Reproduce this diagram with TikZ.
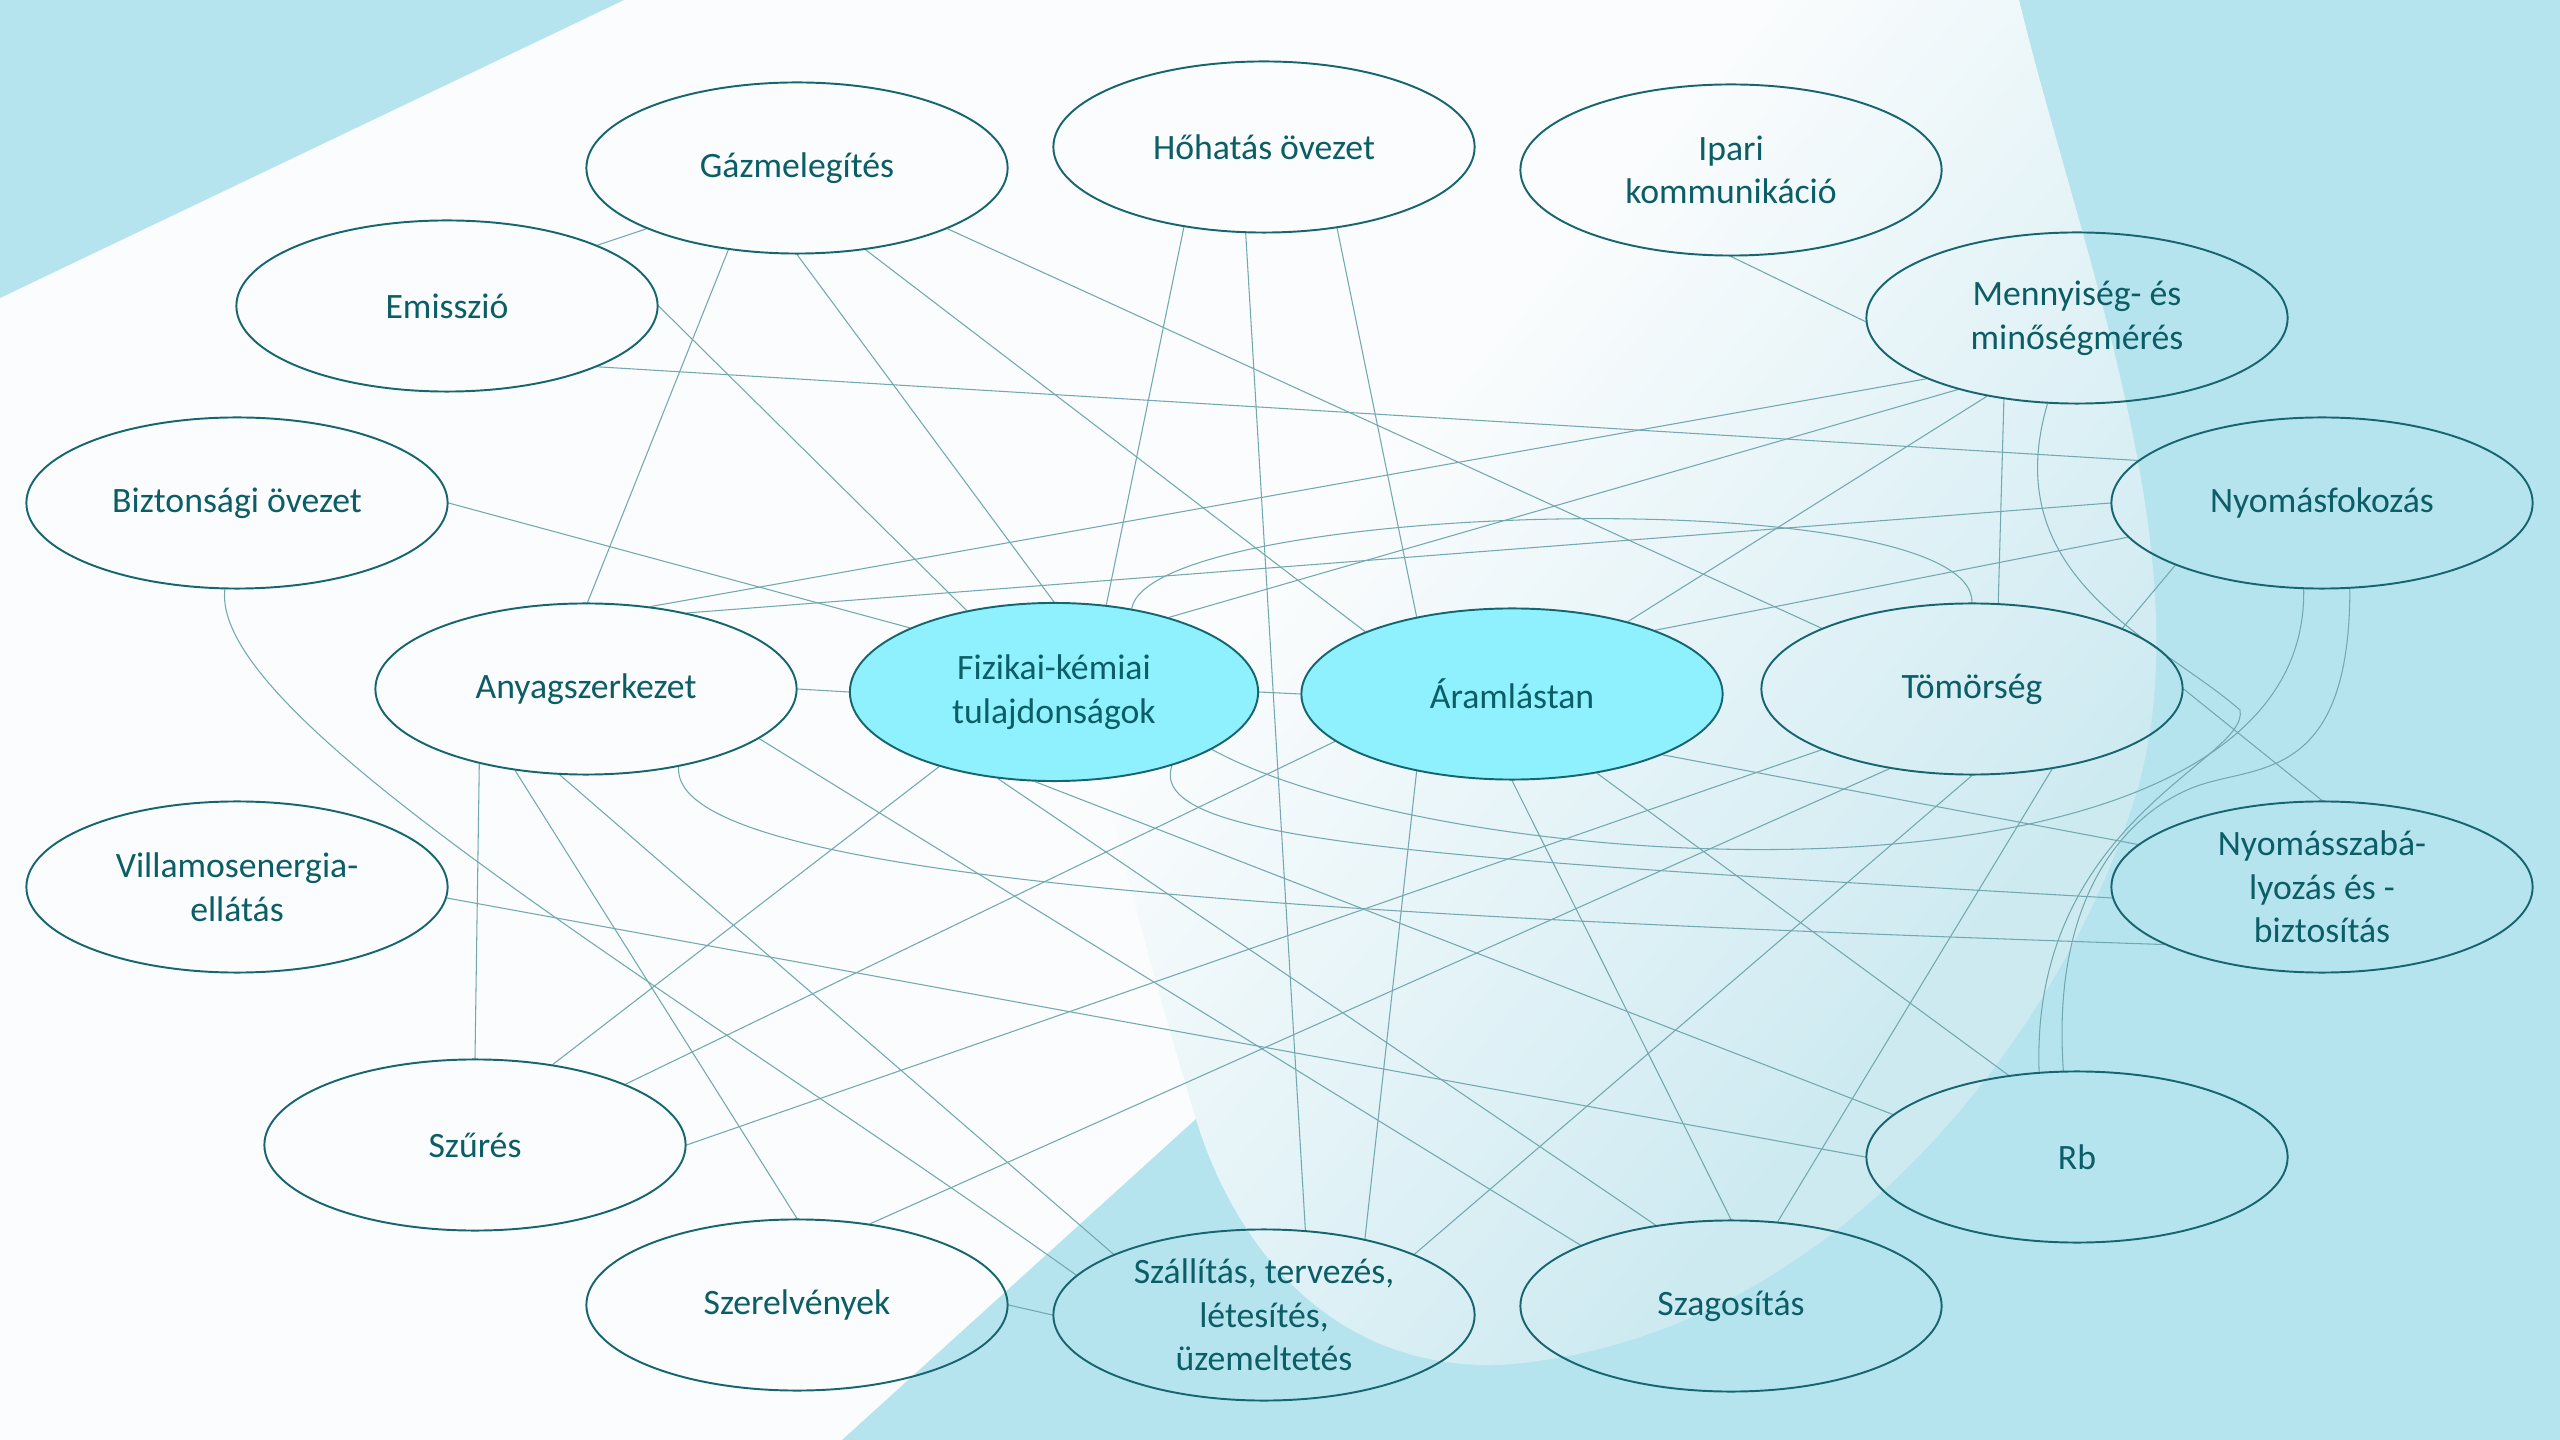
\documentclass[tikz,border=0pt]{standalone}
\usepackage{fontspec}
\setmainfont{Carlito}
\usetikzlibrary{shapes.geometric}
\definecolor{NodeTeal}{HTML}{17666F}
\definecolor{TextTeal}{HTML}{0B5D66}
\definecolor{LinkTeal}{HTML}{72A8AF}
\definecolor{CoreCyan}{HTML}{8EF1FD}
\definecolor{BackBlue}{HTML}{B6E4EE}
\definecolor{BaseWhite}{HTML}{FAFCFD}
\definecolor{LensBlue}{HTML}{CDEAF1}
\pgfdeclarehorizontalshading{lensfade}{100bp}{color(0bp)=(BaseWhite); color(25bp)=(BaseWhite); color(38bp)=(BaseWhite); color(68bp)=(LensBlue); color(100bp)=(LensBlue)}
\pgfdeclarelayer{backdrop}
\pgfdeclarelayer{links}
\pgfsetlayers{backdrop,links,main}
\tikzset{
  % Node styles
  conceptnode/.style={ellipse, draw=NodeTeal, line width=0.55pt, minimum width=4.21cm, minimum height=1.71cm, inner sep=0pt, align=center, text=TextTeal, font=\fontsize{10.15}{12.4}\selectfont},
  corenode/.style={conceptnode, fill=CoreCyan, minimum width=4.08cm, minimum height=1.78cm},
  % Line styles
  linkline/.style={draw=LinkTeal, line width=0.3pt}
}

\begin{document}
\begin{tikzpicture}[x=0.01cm, y=-0.01cm]
  \useasboundingbox (0,0) rectangle (2560,1440);

  % Backdrop
  \begin{pgfonlayer}{backdrop}
    \fill[BaseWhite] (0,0) rectangle (2560,1440);
    \fill[BackBlue] (0,0) -- (624,0) -- (0,298) -- cycle;
    \fill[BackBlue] (2019,0) -- (2560,0) -- (2560,1440) -- (842,1440) -- (1196,1119) -- (1600,700) -- cycle;
    \shade[shading=lensfade, shading angle=-40] (1000,0) -- (2019,0) .. controls (2080,250) and (2200,550) .. (2140,780) .. controls (2080,1000) and (1850,1340) .. (1500,1365) .. controls (1300,1370) and (1220,1200) .. (1196,1119) .. controls (1100,800) and (1000,400) .. (1000,0) -- cycle;
  \end{pgfonlayer}

  % Outer ring
  \node[conceptnode] (gaz) at (797,168) {Gázmelegítés};
  \node[conceptnode] (hohatas) at (1264,147) {Hőhatás övezet};
  \node[conceptnode] (ipari) at (1731,170) {Ipari\\kommunikáció};
  \node[conceptnode] (emisszio) at (447,306) {Emisszió};
  \node[conceptnode] (menny) at (2077,318) {Mennyiség- és\\minőségmérés};
  \node[conceptnode] (bizt) at (237,503) {Biztonsági övezet};
  \node[conceptnode] (nyomf) at (2322,503) {Nyomásfokozás};
  \node[conceptnode] (villamos) at (237,887) {Villamosenergia-\\ellátás};
  \node[conceptnode] (nyszab) at (2322,887) {Nyomásszabá-\\lyozás és -\\biztosítás};
  \node[conceptnode] (szures) at (475,1145) {Szűrés};
  \node[conceptnode] (rb) at (2077,1157) {Rb};
  \node[conceptnode] (szerelv) at (797,1305) {Szerelvények};
  \node[conceptnode] (szall) at (1264,1315) {Szállítás, tervezés,\\létesítés,\\üzemeltetés};
  \node[conceptnode] (szag) at (1731,1306) {Szagosítás};

  % Middle row
  \node[conceptnode] (anyag) at (586,689) {Anyagszerkezet};
  \node[corenode] (fizkem) at (1054,692) {Fizikai-kémiai\\tulajdonságok};
  \node[corenode, minimum width=4.21cm, minimum height=1.71cm] (aram) at (1512,694) {Áramlástan};
  \node[conceptnode] (tomor) at (1972,689) {Tömörség};

  % Links
  \begin{pgfonlayer}{links}
    \draw[linkline] (emisszio.22) -- (gaz.202);
    \draw[linkline] (gaz.230) -- (anyag.89);
    \draw[linkline] (gaz.270) -- (fizkem.90);
    \draw[linkline] (gaz.310) -- (aram.157);
    \draw[linkline] (gaz.338) -- (tomor.158);
    \draw[linkline] (emisszio.0) -- (fizkem.137);
    \draw[linkline] (emisszio.338) -- (nyomf.167);
    \draw[linkline] (bizt.0) -- (fizkem.156);
    \draw[linkline] (bizt.262) .. controls +(-15,130) and +(-408,-290) .. (szall.168);
    \draw[linkline] (hohatas.225) -- (fizkem.59);
    \draw[linkline] (hohatas.258) -- (szall.64);
    \draw[linkline] (hohatas.312) -- (aram.141);
    \draw[linkline] (ipari.270) -- (menny.181);
    \draw[linkline] (anyag.52) -- (menny.202);
    \draw[linkline] (anyag.37) -- (nyomf.180);
    \draw[linkline] (anyag.0) -- (fizkem.180);
    \draw[linkline] (fizkem.0) -- (aram.180);
    \draw[linkline] (fizkem.33) -- (menny.211);
    \draw[linkline] (aram.32) -- (menny.221);
    \draw[linkline] (menny.228) -- (tomor.73);
    \draw[linkline] (aram.24) -- (nyomf.190);
    \draw[linkline] (nyomf.203) -- (tomor.22);
    \draw[linkline] (tomor.0) -- (nyszab.90);
    \draw[linkline] (fizkem.47) .. controls +(19,-108) and +(2,-123) .. (tomor.90);
    \draw[linkline] (fizkem.340) .. controls +(241,132) and +(6,342) .. (nyomf.258);
    \draw[linkline] (nyomf.288) .. controls +(0,190) and +(60,-20) .. (2200,785) .. controls (2140,805) and (2050,880) .. (rb.99);
    \draw[linkline] (menny.251) .. controls +(-52,176) and +(-80,-70) .. (2240,710) .. controls (2250,760) and (2030,820) .. (rb.114);
    \draw[linkline] (anyag.215) -- (szures.90);
    \draw[linkline] (anyag.229) -- (szerelv.90);
    \draw[linkline] (anyag.253) -- (szall.158);
    \draw[linkline] (anyag.344) -- (szag.158);
    \draw[linkline] (anyag.320) .. controls +(-10,110) and +(-900,-30) .. (nyszab.200);
    \draw[linkline] (villamos.357) -- (rb.180);
    \draw[linkline] (szerelv.0) -- (szall.180);
    \draw[linkline] (szures.46) -- (fizkem.213);
    \draw[linkline] (szures.22) -- (aram.195);
    \draw[linkline] (szures.0) -- (tomor.202);
    \draw[linkline] (szerelv.48) -- (tomor.224);
    \draw[linkline] (aram.219) -- (szall.37);
    \draw[linkline] (szall.22) -- (tomor.270);
    \draw[linkline] (aram.270) -- (szag.90);
    \draw[linkline] (szag.61) -- (tomor.315);
    \draw[linkline] (fizkem.237) -- (szag.133);
    \draw[linkline] (fizkem.258) -- (rb.167);
    \draw[linkline] (fizkem.328) .. controls +(-25,75) and +(-700,-40) .. (nyszab.183);
    \draw[linkline] (aram.317) -- (rb.130);
    \draw[linkline] (aram.338) -- (nyszab.167);
  \end{pgfonlayer}
\end{tikzpicture}
\end{document}
